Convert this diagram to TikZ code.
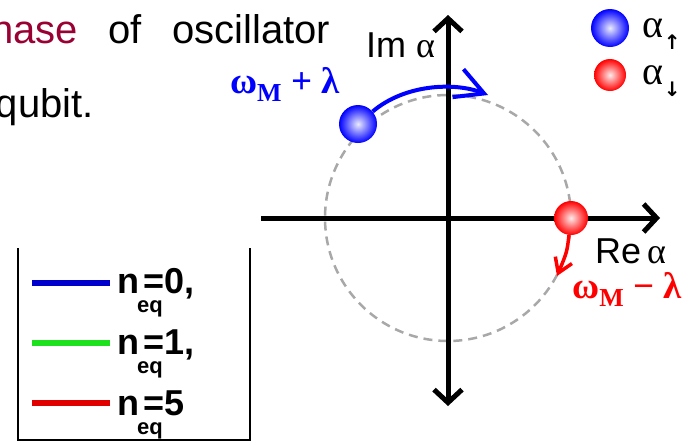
\documentclass[tikz,border=0pt]{standalone}
\usepackage{fontspec}
\setmainfont{Liberation Sans}
\newfontfamily\grk{Liberation Serif}
\newfontfamily\arw{DejaVu Sans}
\usetikzlibrary{positioning,arrows.meta}
\usepackage{xcolor}
\definecolor{phasered}{RGB}{153,0,51}
\definecolor{circgray}{RGB}{168,168,168}
\definecolor{legblue}{RGB}{0,0,205}
\definecolor{leggreen}{RGB}{30,225,30}
\definecolor{legred}{RGB}{225,0,0}
\newcommand\neqlab[1]{n\rlap{\hspace{-.06em}\raisebox{-.55em}{\fontsize{22}{22}\selectfont eq}}\hspace{.12em}=#1}
\newcommand\spinlab[1]{α\hspace{.02em}\raisebox{-.3em}{\arw\fontsize{20}{20}\selectfont\bfseries #1}}

\begin{document}
\begin{tikzpicture}[
    x=1pt, y=-1pt,
    axis/.style={line width=5pt, {Straight Barb[length=13pt,width=28pt]}-{Straight Barb[length=13pt,width=28pt]}},
    ball/.style={circle, shading=radial, inner sep=0pt},
    toptext/.style={font=\fontsize{40}{48}\selectfont, inner sep=0pt},
    axlab/.style={font=\fontsize{36}{40}\selectfont, inner sep=0pt, anchor=base west},
    freqlab/.style={font=\grk\bfseries\fontsize{37}{42}\selectfont, inner sep=0pt, anchor=base west},
    alphalab/.style={font=\grk\fontsize{40}{44}\selectfont, inner sep=0pt, anchor=base west},
    legtext/.style={font=\bfseries\fontsize{36}{40}\selectfont, inner sep=0pt, anchor=base west},
    legline/.style={line width=6pt}]
  \useasboundingbox (0,0) rectangle (698,442);
  \clip (0,0) rectangle (698,442);

  \node[toptext, text=phasered, anchor=base east] (phase) at (78,43) {phase};
  \node[toptext, anchor=base west] (ofword) at (108,43) {of};
  \node[toptext, anchor=base west] (oscword) at (172,43) {oscillator};
  \node[toptext, anchor=base east] (qubit) at (94,117) {qubit.};

  \coordinate (origin) at (448,218);
  \coordinate (imtop) at (448,15);
  \coordinate (imbot) at (448,406);
  \coordinate (releft) at (261,218);
  \coordinate (reright) at (660,218);
  \draw[circgray, line width=2.5pt, dash pattern=on 9pt off 6pt] (origin) circle[radius=123pt];
  \draw[axis] (imbot) -- (imtop);
  \draw[axis, -{Straight Barb[length=13pt,width=28pt]}] (releft) -- (reright);
  \node[axlab] (imlab) at (366,57) {Im {\grk α}};
  \node[axlab] (relab) at (595,263) {Re\,{\grk α}};

  \node[ball, minimum size=38pt, inner color=blue!8, outer color=blue] (upball) at (358,124) {};
  \node[ball, minimum size=34pt, inner color=red!8, outer color=red] (downball) at (571,218) {};
  \coordinate (uptip) at (488,95);
  \coordinate (downtip) at (557,276);
  \draw[blue, line width=4pt, -{Straight Barb[length=28pt,width=30pt]}]
    (upball) .. controls (405,84) and (455,82) .. (uptip);
  \draw[red, line width=3.5pt, -{Straight Barb[length=14pt,width=18pt]}]
    (downball) .. controls (567,252) .. (downtip);
  \node[freqlab, text=blue] (pluslab) at (230,93) {ω\textsubscript{M} + λ};
  \node[freqlab, text=red] (minuslab) at (572,298) {ω\textsubscript{M} − λ};

  \node[ball, minimum size=38pt, inner color=blue!8, outer color=blue] (legup) at (610,28) {};
  \node[ball, minimum size=32pt, inner color=red!8, outer color=red] (legdown) at (610,75) {};
  \node[alphalab] (legupl) at (642,37) {\spinlab{↑}};
  \node[alphalab] (legdownl) at (642,84) {\spinlab{↓}};

  \draw[line width=2pt] (18,248) -- (18,440) -- (250,440) -- (250,248);
  \node[legtext] (n0) at (117,293) {\neqlab{0,}};
  \node[legtext] (n1) at (117,354) {\neqlab{1,}};
  \node[legtext] (n5) at (117,415) {\neqlab{5}};
  \draw[legline, legblue] (32,283) -- (110,283);
  \draw[legline, leggreen] (32,343) -- (110,343);
  \draw[legline, legred] (32,403) -- (110,403);
\end{tikzpicture}
\end{document}
